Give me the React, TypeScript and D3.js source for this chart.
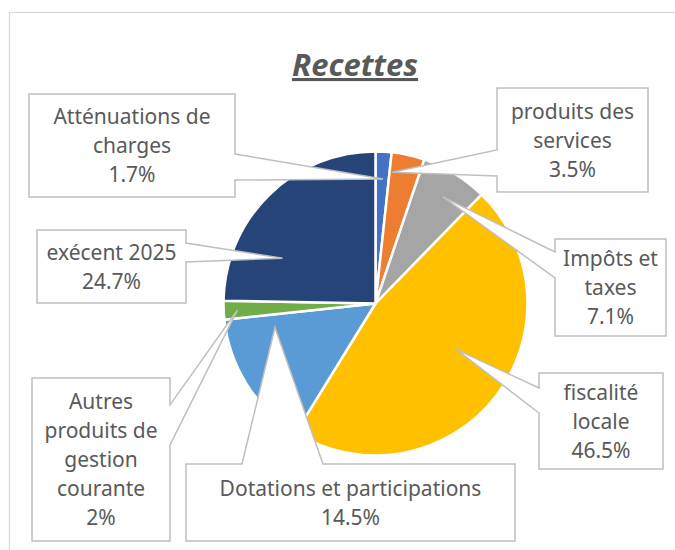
import React, { useEffect, useRef } from "react"
import * as d3 from "d3"

// slices, clockwise from 12 o'clock
const categories = [
  "Atténuations de charges",
  "produits des services",
  "Impôts et taxes",
  "fiscalité locale",
  "Dotations et participations",
  "Autres produits de gestion courante",
  "exécent 2025",
]
const values = [1.7, 3.5, 7.1, 46.5, 14.5, 2, 24.7]
const valueLabels = ["1.7%", "3.5%", "7.1%", "46.5%", "14.5%", "2%", "24.7%"]
const labelLines = [
  ["Atténuations de", "charges"],
  ["produits des", "services"],
  ["Impôts et", "taxes"],
  ["fiscalité", "locale"],
  ["Dotations et participations"],
  ["Autres", "produits de", "gestion", "courante"],
  ["exécent 2025"],
]
const colors = ["#4472C4", "#ED7D31", "#A5A5A5", "#FFC000", "#5B9BD5", "#70AD47", "#264478"]

// callout boxes: [x0, y0, x1, y1], side of the pointer, its span on that side,
// and where the tip sits inside the slice (fraction of the slice angle, fraction of radius)
const callouts = [
  { box: [29, 94, 235, 197], side: "right", span: [154, 180], tip: [0.57, 0.82] },
  { box: [497, 88, 648, 192], side: "left", span: [150, 176], tip: [0.09, 0.87] },
  { box: [555, 239, 666, 336], side: "left", span: [252, 278], tip: [0.53, 0.83] },
  { box: [539, 373, 663, 469], side: "left", span: [388, 413], tip: [0.45, 0.61] },
  { box: [186, 464, 515, 541], side: "top", span: [242, 323], tip: [0.86, 0.68] },
  { box: [32, 378, 170, 541], side: "right", span: [405, 445], tip: [0.47, 0.91] },
  { box: [37, 230, 186, 303], side: "right", span: [243, 262], tip: [0.28, 0.68] },
]

const W = 675
const H = 550
const cx = 375.5
const cy = 303.5
const radius = 152
const font = "'Noto Sans', 'DejaVu Sans', sans-serif"
const textColor = "#595959"

function calloutPath(c, tx, ty) {
  const [x0, y0, x1, y1] = c.box
  const [a, b] = c.span
  const p = d3.path()
  p.moveTo(x0, y0)
  if (c.side === "top") {
    p.lineTo(a, y0); p.lineTo(tx, ty); p.lineTo(b, y0)
  }
  p.lineTo(x1, y0)
  if (c.side === "right") {
    p.lineTo(x1, a); p.lineTo(tx, ty); p.lineTo(x1, b)
  }
  p.lineTo(x1, y1)
  p.lineTo(x0, y1)
  if (c.side === "left") {
    p.lineTo(x0, b); p.lineTo(tx, ty); p.lineTo(x0, a)
  }
  p.closePath()
  return p.toString()
}

export default function App() {
  const ref = useRef(null)

  useEffect(() => {
    const svg = d3.select(ref.current)
    svg.selectAll("*").remove()

    // chart area border
    svg.append("rect")
      .attr("x", 9.5).attr("y", 12.5)
      .attr("width", W + 20).attr("height", H + 20)
      .attr("fill", "#fff")
      .attr("stroke", "#D9D9D9")
      .attr("stroke-width", 1.3)

    // title
    svg.append("text")
      .attr("x", 355).attr("y", 76)
      .attr("text-anchor", "middle")
      .attr("font-family", font)
      .attr("font-size", 31)
      .attr("font-weight", "bold")
      .attr("font-style", "italic")
      .attr("fill", textColor)
      .attr("text-decoration", "underline")
      .text("Recettes")

    const pie = d3.pie().sort(null).value(d => d)
    const arcs = pie(values)
    const arc = d3.arc().innerRadius(0).outerRadius(radius)

    const g = svg.append("g").attr("transform", `translate(${cx},${cy})`)
    g.selectAll("path")
      .data(arcs)
      .join("path")
      .attr("d", arc)
      .attr("fill", (d, i) => colors[i])
      .attr("stroke", "#fff")
      .attr("stroke-width", 2.5)
      .attr("stroke-linejoin", "round")

    callouts.forEach((c, i) => {
      const s = arcs[i]
      const ang = s.startAngle + c.tip[0] * (s.endAngle - s.startAngle)
      const r = c.tip[1] * radius
      const tx = cx + r * Math.sin(ang)
      const ty = cy - r * Math.cos(ang)

      svg.append("path")
        .attr("d", calloutPath(c, tx, ty))
        .attr("fill", "#fff")
        .attr("stroke", "#BFBFBF")
        .attr("stroke-width", 1.5)

      const lines = [...labelLines[i], valueLabels[i]]
      const [x0, y0, x1, y1] = c.box
      const mx = (x0 + x1) / 2
      const my = (y0 + y1) / 2
      const lh = 29
      const t = svg.append("text")
        .attr("text-anchor", "middle")
        .attr("font-family", font)
        .attr("font-size", 21)
        .attr("fill", textColor)
      lines.forEach((ln, k) => {
        t.append("tspan")
          .attr("x", mx)
          .attr("y", my + (k - (lines.length - 1) / 2) * lh + 7.5)
          .text(ln)
      })
      t.append("title").text(categories[i])
    })
  }, [])

  return (
    <svg
      ref={ref}
      width={W}
      height={H}
      style={{ position: "absolute", left: 0, top: 0, background: "#fff" }}
    />
  )
}
